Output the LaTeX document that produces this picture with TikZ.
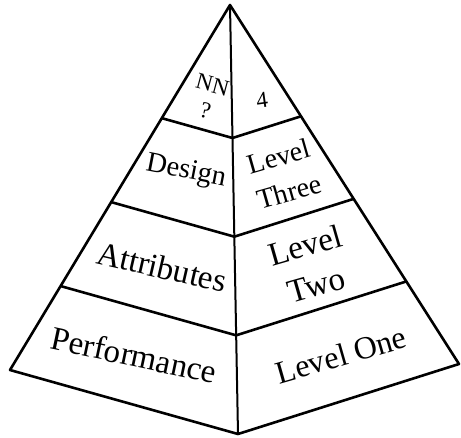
\documentclass[tikz,border=0pt]{standalone}
\usepackage{fontspec}
\setmainfont{Liberation Serif}
\usetikzlibrary{calc}

\begin{document}
\begin{tikzpicture}[x=1pt,y=-1pt,
		edge/.style={line width=2.6pt,line join=round},
		spine/.style={line width=2pt},
		face/.style={align=center,inner sep=0pt}]
		\useasboundingbox (0,0) rectangle (461,437);
		
		% corners of the pyramid
		\coordinate (apex) at (230,5);
		\coordinate (bl) at (10,370);
		\coordinate (bm) at (238,434);
		\coordinate (br) at (459,364);
		
		\draw[edge] (apex) -- (bl) -- (bm) -- (br) -- cycle;
		\draw[spine] (apex) -- (bm);
		
		% the three cuts between the levels
		\foreach \t/\n in {0.31/3,0.54/2,0.77/1} {
			\draw[edge] ($(apex)!\t!(bl)$) coordinate (l\n) -- ($(apex)!\t!(bm)$) coordinate (m\n) -- ($(apex)!\t!(br)$) coordinate (r\n);
		}
		
		% left face
		\node[face,rotate=-15,font=\fontsize{23}{27}\selectfont] (nn) at (209,98) {NN\\?};
		\node[face,rotate=-11,font=\fontsize{28.5}{32}\selectfont] (design) at (186,172) {Design};
		\node[face,rotate=-13,font=\fontsize{33}{37}\selectfont] (attr) at (162,267) {Attributes};
		\node[face,rotate=-12,font=\fontsize{33}{37}\selectfont] (perf) at (134,355) {Performance};
		
		% right face
		\node[face,rotate=8,font=\fontsize{23}{27}\selectfont] (four) at (262,100) {4};
		\node[face,rotate=16,font=\fontsize{28}{37}\selectfont] (three) at (284,174) {Level\\Three};
		\node[face,rotate=16,font=\fontsize{33}{41}\selectfont] (two) at (311,265) {Level\\Two};
		\node[face,rotate=16,font=\fontsize{32}{37}\selectfont] (one) at (341,355) {Level One};
		
	\end{tikzpicture}
\end{document}
